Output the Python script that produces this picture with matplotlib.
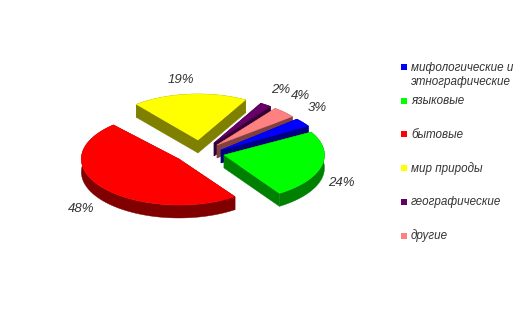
import numpy as np
import matplotlib
matplotlib.use("Agg")
import matplotlib.pyplot as plt
from matplotlib.patches import Polygon, Rectangle

categories = ["мифологические и\nэтнографические", "языковые", "бытовые",
              "мир природы", "географические", "другие"]
values = [3, 24, 48, 19, 2, 4]
top_colors = ["#0000FF", "#00FF00", "#FF0000", "#FFFF00", "#660066", "#FF8080"]
side_colors = ["#000080", "#008000", "#800000", "#808000", "#330033", "#804040"]
pct_labels = ["3%", "24%", "48%", "19%", "2%", "4%"]
label_xy = [(317, 108), (341, 183), (81, 209), (181, 80), (281, 90), (300, 96)]
legend_y = [66.5, 100.5, 134, 168, 202, 235.5]
explode = [(24, -2), (27, 3), (-18, 7), (1, -12), (17, -9), (20, -7)]
rotate = [-5, -6.5, -5, -8, -9, -9]
rx_scale = [1.1, 1.08, 1.05, 1.05, 1, 1.03]
draw_order = [3, 4, 5, 0, 1, 2]

CX, CY, RX, RY, DEPTH = 197, 152, 93, 46, 13
START = 47.2

fig = plt.figure(figsize=(5.3, 3.18), dpi=100, facecolor="white")
ax = fig.add_axes([0, 0, 1, 1])
ax.set_xlim(0, 530)
ax.set_ylim(318, 0)
ax.axis("off")

fr = np.array(values) / sum(values) * 360
ends = START - np.cumsum(fr)
starts = ends + fr


def pts(t, ox, oy, sx, dz=0):
    r = np.radians(t)
    return np.c_[CX + ox + RX * sx * np.cos(r), CY + oy - RY * np.sin(r) + dz]


for i in draw_order:
    ox, oy = explode[i]
    t = np.linspace(starts[i], ends[i], 80) + rotate[i]
    apex = np.array([[CX + ox, CY + oy]])
    rim = pts(t, ox, oy, rx_scale[i])
    low = pts(t, ox, oy, rx_scale[i], DEPTH)
    apex_low = apex + [0, DEPTH]
    sc, tc = side_colors[i], top_colors[i]
    for wall in (
        np.vstack([apex, rim[:1], low[:1], apex_low]),
        np.vstack([apex, rim[-1:], low[-1:], apex_low]),
        np.vstack([rim, low[::-1]]),
    ):
        ax.add_patch(Polygon(wall, closed=True, fc=sc, ec=sc, lw=0.3, zorder=2))
    ax.add_patch(Polygon(np.vstack([apex, rim]), closed=True, fc=tc, ec=tc, lw=0.3, zorder=2))

lf = dict(family=["Liberation Sans", "DejaVu Sans"], style="italic", color="#333333")
for s, (x, y) in zip(pct_labels, label_xy):
    ax.text(x, y, s, ha="center", va="center", fontsize=9.5, zorder=3, **lf)

for name, c, y in zip(categories, top_colors, legend_y):
    ax.add_patch(Rectangle((401, y - 3), 6, 6, fc=c, ec="none", zorder=3))
    if "\n" in name:
        ax.text(411, y - 5, name, ha="left", va="top", fontsize=8.4, linespacing=1.25, zorder=3, **lf)
    else:
        ax.text(411, y + 0.5, name, ha="left", va="center", fontsize=8.4, zorder=3, **lf)

fig.savefig("out.png", dpi=100)
